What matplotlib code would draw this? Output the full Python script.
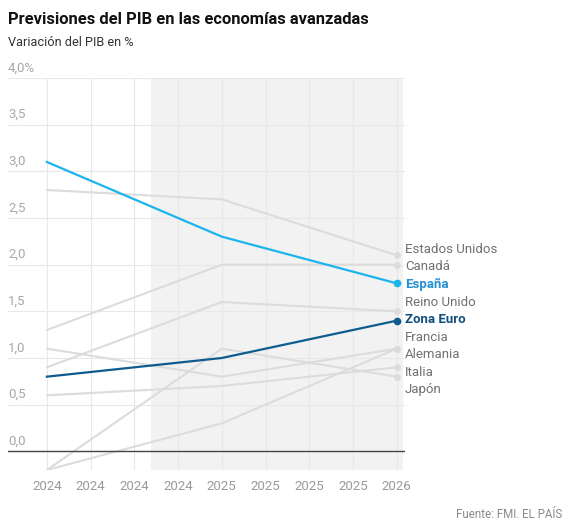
import numpy as np
import matplotlib.pyplot as plt
from matplotlib import transforms

plt.rcParams['font.family'] = ['Roboto', 'DejaVu Sans']

# datos (IMF)
tick_labels = ['2024', '2024', '2024', '2024', '2025', '2025', '2025', '2025', '2026']
point_pos = [0, 4, 8]
countries = ['Estados Unidos', 'Canadá', 'España', 'Reino Unido', 'Zona Euro',
             'Francia', 'Alemania', 'Italia', 'Japón']
estados_unidos = [2.8, 2.7, 2.1]
canada = [1.3, 2.0, 2.0]
espana = [3.1, 2.3, 1.8]
reino_unido = [0.9, 1.6, 1.5]
zona_euro = [0.8, 1.0, 1.4]
francia = [1.1, 0.8, 1.1]
alemania = [-0.2, 0.3, 1.1]
italia = [0.6, 0.7, 0.9]
japon = [-0.2, 1.1, 0.8]
yticks = [0, 0.5, 1, 1.5, 2, 2.5, 3, 3.5, 4]
ytick_labels = ['0,0', '0,5', '1,0', '1,5', '2,0', '2,5', '3,0', '3,5', '4,0%']

series = [estados_unidos, canada, espana, reino_unido, zona_euro,
          francia, alemania, italia, japon]

line_colors = {'España': '#1cb4ec', 'Zona Euro': '#0e5c8e'}
label_colors = {'España': '#2590d2', 'Zona Euro': '#0f4f80'}
grey = '#dcdcdc'

W, H = 567, 529
fig = plt.figure(figsize=(W / 100, H / 100), dpi=100)
ax = fig.add_axes([8 / W, 59 / H, 397 / W, 392 / H])
ax.set_xlim(-0.89, 8.19)
ax.set_ylim(-0.2, 4.0)

# zona de previsiones
ax.axvspan(2.38, 8.14, color='#f2f2f2', zorder=0.2, lw=0)
ax.set_axisbelow(True)
ax.grid(color='#e8e8e8', lw=0.8)
ax.set_xticks(range(len(tick_labels)))
ax.set_xticklabels(tick_labels)
ax.set_yticks(yticks)
ax.set_yticklabels([])
ax.tick_params(length=0, labelsize=9.5, labelcolor='#9a9a9a', pad=7)
for s in ax.spines.values():
    s.set_visible(False)
ax.axhline(0, color='#444444', lw=1, zorder=3)

trans = transforms.blended_transform_factory(ax.transAxes, ax.transData)
for v, lab in zip(yticks, ytick_labels):
    ax.annotate(lab, xy=(0, v), xycoords=trans, xytext=(0, 2.5), textcoords='offset points',
                ha='left', va='bottom', fontsize=9.5, color='#a8a8a8')

# lineas grises primero, destacadas encima
for name, vals in zip(countries, series):
    if name in line_colors:
        continue
    ax.plot(point_pos, vals, color=grey, lw=1.5, zorder=2, solid_capstyle='round')
    ax.plot(point_pos[-1], vals[-1], 'o', color=grey, ms=4, zorder=2)
for name, vals in zip(countries, series):
    if name not in line_colors:
        continue
    ax.plot(point_pos, vals, color=line_colors[name], lw=1.6, zorder=4)
    ax.plot(point_pos[-1], vals[-1], 'o', color=line_colors[name], ms=4.5, zorder=4)

# etiquetas separadas para que no se solapen
last = np.array([v[-1] for v in series])
order = np.argsort(-last, kind='stable')
ys = last[order].astype(float)
gap = 0.188
for _ in range(500):
    moved = False
    for i in range(len(ys) - 1):
        d = ys[i] - ys[i + 1]
        if d < gap - 1e-6:
            sh = (gap - d) / 2
            ys[i] += sh
            ys[i + 1] -= sh
            moved = True
    if not moved:
        break
for idx, y in zip(order, ys):
    name = countries[idx]
    hl = name in line_colors
    ax.annotate(name, xy=(point_pos[-1], y), xytext=(6, 0), textcoords='offset points',
                ha='left', va='center', fontsize=9.5,
                fontweight='bold' if hl else 'normal',
                color=label_colors.get(name, '#707070'), annotation_clip=False)

fig.text(8 / W, 1 - 20 / H, 'Previsiones del PIB en las economías avanzadas',
         fontsize=11.9, fontweight='bold', color='#111111', va='center', ha='left')
fig.text(8 / W, 1 - 43 / H, 'Variación del PIB en %', fontsize=9.2, color='#333333',
         va='center', ha='left')
fig.text(562 / W, 1 - 515 / H, 'Fuente: FMI. EL PAÍS', fontsize=8.3, color='#8a8a8a',
         va='center', ha='right')

fig.savefig('out.png', dpi=100)
